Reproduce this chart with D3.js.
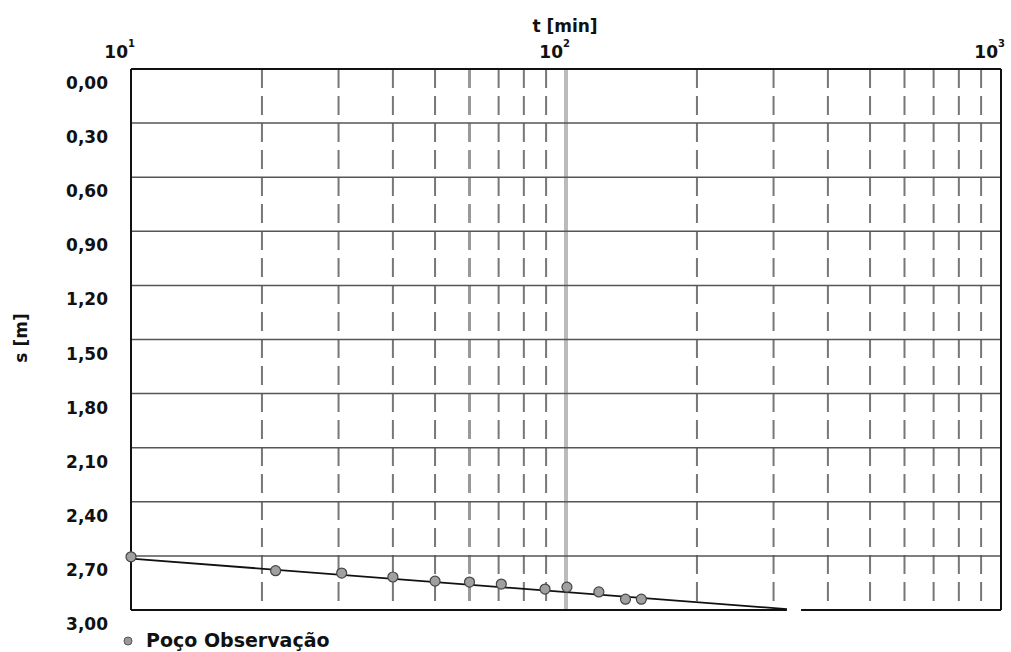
<!DOCTYPE html>
<html>
<head>
<meta charset="utf-8">
<script src="https://cdn.jsdelivr.net/npm/d3@7"></script>
<style>
  body { margin: 0; background: #fff; }
  text { font-family: "DejaVu Sans", sans-serif; font-weight: bold; fill: #111; }
</style>
</head>
<body>
<div id="chart"></div>
<script>
// observed drawdown in the observation well
var tMin = [10, 21.5, 30.5, 40, 50, 60, 71, 89.5, 100.5, 119, 137, 149];
var sObs = [2.705, 2.782, 2.795, 2.817, 2.84, 2.845, 2.856, 2.884, 2.873, 2.90, 2.94, 2.94];

// fitted straight line (semi-log)
var fitT = [10, 322];
var fitS = [2.715, 2.995];

// small break seen in the bottom frame line
var bottomGap = [322, 347];

var xDecades = [10, 100, 1000];
var xExps = ["1", "2", "3"];
var yTicks = [0, 0.3, 0.6, 0.9, 1.2, 1.5, 1.8, 2.1, 2.4, 2.7, 3.0];
var yTickLabels = ["0,00", "0,30", "0,60", "0,90", "1,20", "1,50", "1,80", "2,10", "2,40", "2,70", "3,00"];
var legendLabel = "Poço Observação";

var W = 1011, H = 652;
var svg = d3.select("#chart").append("svg")
    .attr("width", W)
    .attr("height", H);

var x = d3.scaleLog().domain([10, 1000]).range([131, 1001]);
var y = d3.scaleLinear().domain([0, 3]).range([69, 610]);

// minor log gridlines (dashed)
var minor = x.ticks().filter(function(d) { return xDecades.indexOf(d) < 0; });
svg.append("g").selectAll("line")
  .data(minor)
  .enter().append("line")
    .attr("x1", function(d) { return x(d); })
    .attr("x2", function(d) { return x(d); })
    .attr("y1", y(0))
    .attr("y2", y(3))
    .attr("stroke", function(d) { return d == 60 ? "#999" : "#777"; })
    .attr("stroke-width", function(d) { return d == 60 ? 3 : 2; })
    .attr("stroke-dasharray", "19,8");

// 10^2 line, light and thick
svg.append("line")
    .attr("x1", x(100)).attr("x2", x(100))
    .attr("y1", y(0)).attr("y2", y(3))
    .attr("stroke", "#bbb")
    .attr("stroke-width", 4);

// horizontal gridlines
svg.append("g").selectAll("line")
  .data(yTicks.slice(1, -1))
  .enter().append("line")
    .attr("x1", x(10))
    .attr("x2", x(1000))
    .attr("y1", function(d) { return y(d); })
    .attr("y2", function(d) { return y(d); })
    .attr("stroke", "#555")
    .attr("stroke-width", 1.5);

// frame
var frame = svg.append("g").attr("stroke", "#111").attr("stroke-width", 2);
frame.append("line").attr("x1", x(10)).attr("x2", x(1000)).attr("y1", y(0)).attr("y2", y(0));
frame.append("line").attr("x1", x(10)).attr("x2", x(10)).attr("y1", y(0)).attr("y2", y(3));
frame.append("line").attr("x1", x(1000)).attr("x2", x(1000)).attr("y1", y(0)).attr("y2", y(3));
frame.append("line").attr("x1", x(10)).attr("x2", x(bottomGap[0])).attr("y1", y(3)).attr("y2", y(3));
frame.append("line").attr("x1", x(bottomGap[1])).attr("x2", x(1000)).attr("y1", y(3)).attr("y2", y(3));

// fitted line
svg.append("path")
  .datum(d3.zip(fitT, fitS))
  .attr("fill", "none")
  .attr("stroke", "#111")
  .attr("stroke-width", 1.8)
  .attr("d", d3.line()
    .x(function(d) { return x(d[0]); })
    .y(function(d) { return y(d[1]); }));

// observed points
svg.append("g").selectAll("circle")
  .data(d3.zip(tMin, sObs))
  .enter().append("circle")
    .attr("cx", function(d) { return x(d[0]); })
    .attr("cy", function(d) { return y(d[1]); })
    .attr("r", 5)
    .attr("fill", "#a0a0a0")
    .attr("stroke", "#444")
    .attr("stroke-width", 1.2);

// y tick labels (sit just below their gridline)
svg.append("g").selectAll("text")
  .data(yTicks)
  .enter().append("text")
    .attr("x", 108)
    .attr("y", function(d) { return y(d) + 20; })
    .attr("text-anchor", "end")
    .attr("font-size", 17)
    .text(function(d, i) { return yTickLabels[i]; });

// top decade labels
var dec = svg.append("g").selectAll("g")
  .data(xDecades)
  .enter().append("g");
dec.append("text")
    .attr("x", function(d) { return x(d) - 3; })
    .attr("y", 58)
    .attr("text-anchor", "end")
    .attr("font-size", 17)
    .text("10");
dec.append("text")
    .attr("x", function(d) { return x(d) - 3; })
    .attr("y", 47)
    .attr("font-size", 10)
    .text(function(d, i) { return xExps[i]; });

// axis titles
svg.append("text")
    .attr("x", 565)
    .attr("y", 32)
    .attr("text-anchor", "middle")
    .attr("font-size", 17)
    .text("t [min]");

svg.append("text")
    .attr("transform", "translate(27,338) rotate(-90)")
    .attr("text-anchor", "middle")
    .attr("font-size", 17)
    .text("s [m]");

// legend
svg.append("circle")
    .attr("cx", 128)
    .attr("cy", 641)
    .attr("r", 4)
    .attr("fill", "#999")
    .attr("stroke", "#555")
    .attr("stroke-width", 1);
svg.append("text")
    .attr("x", 146)
    .attr("y", 647)
    .attr("font-size", 19)
    .text(legendLabel);
</script>
</body>
</html>
